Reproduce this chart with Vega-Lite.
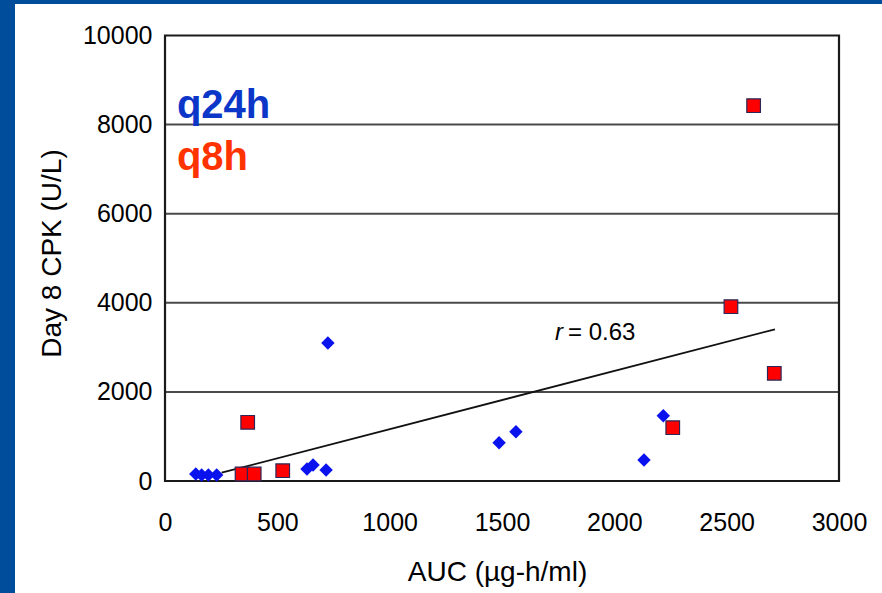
{
  "$schema": "https://vega.github.io/schema/vega-lite/v6.json",
  "width": 867,
  "height": 589,
  "autosize": {"type": "none"},
  "padding": {"left": 15, "top": 4, "right": 0, "bottom": 0},
  "background": "#004d9c",
  "config": {
    "font": "Liberation Sans",
    "numberFormat": "d",
    "view": {"fill": "white", "stroke": null},
    "axisX": {
      "orient": "bottom", "offset": -112, "format": "d",
      "grid": false, "domain": false, "ticks": false, "tickSize": 0,
      "labelPadding": 29, "labelFontSize": 25, "labelColor": "#000000", "labelFont": "Liberation Sans",
      "titleFontSize": 28, "titleFontWeight": "normal", "titleColor": "#000000",
      "titleFont": "Liberation Sans", "titleX": 482, "titleY": 91, "titleBaseline": "middle", "titleAlign": "center"
    },
    "axisY": {
      "orient": "left", "offset": -150, "format": "d",
      "grid": false, "domain": false, "ticks": false, "tickSize": 0,
      "labelPadding": 13, "labelFontSize": 25, "labelColor": "#000000", "labelFont": "Liberation Sans",
      "titleFontSize": 28, "titleFontWeight": "normal", "titleColor": "#000000",
      "titleFont": "Liberation Sans", "titleX": -113, "titleY": 249, "titleBaseline": "middle", "titleAlign": "center", "titleAngle": -90
    }
  },
  "datasets": {
    "points": [
      {"auc": 137, "cpk": 157, "regimen": "q24h"},
      {"auc": 163, "cpk": 135, "regimen": "q24h"},
      {"auc": 193, "cpk": 135, "regimen": "q24h"},
      {"auc": 230, "cpk": 135, "regimen": "q24h"},
      {"auc": 632, "cpk": 269, "regimen": "q24h"},
      {"auc": 659, "cpk": 359, "regimen": "q24h"},
      {"auc": 717, "cpk": 247, "regimen": "q24h"},
      {"auc": 725, "cpk": 3098, "regimen": "q24h"},
      {"auc": 1487, "cpk": 860, "regimen": "q24h"},
      {"auc": 1562, "cpk": 1107, "regimen": "q24h"},
      {"auc": 2132, "cpk": 471, "regimen": "q24h"},
      {"auc": 2218, "cpk": 1466, "regimen": "q24h"},
      {"auc": 2620, "cpk": 8424, "regimen": "q8h"},
      {"auc": 2519, "cpk": 3912, "regimen": "q8h"},
      {"auc": 2712, "cpk": 2418, "regimen": "q8h"},
      {"auc": 2260, "cpk": 1196, "regimen": "q8h"},
      {"auc": 368, "cpk": 1318, "regimen": "q8h"},
      {"auc": 343, "cpk": 157, "regimen": "q8h"},
      {"auc": 397, "cpk": 157, "regimen": "q8h"},
      {"auc": 524, "cpk": 231, "regimen": "q8h"}
    ],
    "fit": [
      {"auc": 252, "cpk": 186},
      {"auc": 2715, "cpk": 3405}
    ],
    "grid": [
      {"cpk": 2000}, {"cpk": 4000}, {"cpk": 6000}, {"cpk": 8000}
    ],
    "notes": [
      {"label": "q24h", "auc": 53, "cpk": 8148},
      {"label": "q8h", "auc": 53, "cpk": 6981},
      {"label": "r", "auc": 1736, "cpk": 3165},
      {"label": "= 0.63", "auc": 1794, "cpk": 3165}
    ]
  },
  "layer": [
    {
      "data": {"name": "grid"},
      "mark": {"type": "rule", "color": "#4a4a4a", "strokeWidth": 2},
      "encoding": {
        "x": {"datum": 0, "type": "quantitative", "title": "AUC (µg-h/ml)", "scale": {"domain": [-667.7, 3191.4], "nice": false, "zero": false}, "axis": {"values": [0, 500, 1000, 1500, 2000, 2500, 3000]}},
        "x2": {"datum": 3000},
        "y": {"field": "cpk", "type": "quantitative", "title": "Day 8 CPK (U/L)", "scale": {"domain": [-2514, 10707], "nice": false, "zero": false}, "axis": {"values": [0, 2000, 4000, 6000, 8000, 10000]}}
      }
    },
    {
      "data": {"values": [{"frame": "plot"}]},
      "mark": {"type": "rect", "fill": null, "fillOpacity": 0, "stroke": "#1a1a1a", "strokeWidth": 2.2},
      "encoding": {
        "x": {"datum": 0, "type": "quantitative", "title": "AUC (µg-h/ml)", "scale": {"domain": [-667.7, 3191.4], "nice": false, "zero": false}, "axis": {"values": [0, 500, 1000, 1500, 2000, 2500, 3000]}},
        "x2": {"datum": 3000},
        "y": {"datum": 0, "type": "quantitative", "title": "Day 8 CPK (U/L)", "scale": {"domain": [-2514, 10707], "nice": false, "zero": false}, "axis": {"values": [0, 2000, 4000, 6000, 8000, 10000]}},
        "y2": {"datum": 10000}
      }
    },
    {
      "data": {"name": "fit"},
      "mark": {"type": "line", "color": "#111111", "strokeWidth": 1.8},
      "encoding": {
        "x": {"field": "auc", "type": "quantitative", "title": "AUC (µg-h/ml)", "scale": {"domain": [-667.7, 3191.4], "nice": false, "zero": false}, "axis": {"values": [0, 500, 1000, 1500, 2000, 2500, 3000]}},
        "y": {"field": "cpk", "type": "quantitative", "title": "Day 8 CPK (U/L)", "scale": {"domain": [-2514, 10707], "nice": false, "zero": false}, "axis": {"values": [0, 2000, 4000, 6000, 8000, 10000]}}
      }
    },
    {
      "data": {"name": "points"},
      "transform": [{"filter": "datum.regimen === 'q24h'"}],
      "mark": {"type": "point", "shape": "diamond", "filled": true, "color": "#0a12ee", "opacity": 1, "size": 180},
      "encoding": {
        "x": {"field": "auc", "type": "quantitative", "title": "AUC (µg-h/ml)", "scale": {"domain": [-667.7, 3191.4], "nice": false, "zero": false}, "axis": {"values": [0, 500, 1000, 1500, 2000, 2500, 3000]}},
        "y": {"field": "cpk", "type": "quantitative", "title": "Day 8 CPK (U/L)", "scale": {"domain": [-2514, 10707], "nice": false, "zero": false}, "axis": {"values": [0, 2000, 4000, 6000, 8000, 10000]}}
      }
    },
    {
      "data": {"name": "points"},
      "transform": [{"filter": "datum.regimen === 'q8h'"}],
      "mark": {"type": "point", "shape": "square", "filled": true, "fill": "#ff0000", "stroke": "#2e2656", "strokeWidth": 1.2, "opacity": 1, "size": 185},
      "encoding": {
        "x": {"field": "auc", "type": "quantitative", "title": "AUC (µg-h/ml)", "scale": {"domain": [-667.7, 3191.4], "nice": false, "zero": false}, "axis": {"values": [0, 500, 1000, 1500, 2000, 2500, 3000]}},
        "y": {"field": "cpk", "type": "quantitative", "title": "Day 8 CPK (U/L)", "scale": {"domain": [-2514, 10707], "nice": false, "zero": false}, "axis": {"values": [0, 2000, 4000, 6000, 8000, 10000]}}
      }
    },
    {
      "data": {"name": "notes"},
      "transform": [{"filter": "datum.label === 'q24h'"}],
      "mark": {"type": "text", "align": "left", "baseline": "alphabetic", "fontSize": 40, "fontWeight": "bold", "color": "#0b36c8", "font": "Liberation Sans"},
      "encoding": {
        "x": {"field": "auc", "type": "quantitative", "title": "AUC (µg-h/ml)", "scale": {"domain": [-667.7, 3191.4], "nice": false, "zero": false}, "axis": {"values": [0, 500, 1000, 1500, 2000, 2500, 3000]}},
        "y": {"field": "cpk", "type": "quantitative", "title": "Day 8 CPK (U/L)", "scale": {"domain": [-2514, 10707], "nice": false, "zero": false}, "axis": {"values": [0, 2000, 4000, 6000, 8000, 10000]}},
        "text": {"field": "label"}
      }
    },
    {
      "data": {"name": "notes"},
      "transform": [{"filter": "datum.label === 'q8h'"}],
      "mark": {"type": "text", "align": "left", "baseline": "alphabetic", "fontSize": 40, "fontWeight": "bold", "color": "#ff3300", "font": "Liberation Sans"},
      "encoding": {
        "x": {"field": "auc", "type": "quantitative", "title": "AUC (µg-h/ml)", "scale": {"domain": [-667.7, 3191.4], "nice": false, "zero": false}, "axis": {"values": [0, 500, 1000, 1500, 2000, 2500, 3000]}},
        "y": {"field": "cpk", "type": "quantitative", "title": "Day 8 CPK (U/L)", "scale": {"domain": [-2514, 10707], "nice": false, "zero": false}, "axis": {"values": [0, 2000, 4000, 6000, 8000, 10000]}},
        "text": {"field": "label"}
      }
    },
    {
      "data": {"name": "notes"},
      "transform": [{"filter": "datum.label === 'r'"}],
      "mark": {"type": "text", "align": "left", "baseline": "alphabetic", "fontSize": 24, "fontStyle": "italic", "color": "#000000", "font": "Liberation Sans"},
      "encoding": {
        "x": {"field": "auc", "type": "quantitative", "title": "AUC (µg-h/ml)", "scale": {"domain": [-667.7, 3191.4], "nice": false, "zero": false}, "axis": {"values": [0, 500, 1000, 1500, 2000, 2500, 3000]}},
        "y": {"field": "cpk", "type": "quantitative", "title": "Day 8 CPK (U/L)", "scale": {"domain": [-2514, 10707], "nice": false, "zero": false}, "axis": {"values": [0, 2000, 4000, 6000, 8000, 10000]}},
        "text": {"field": "label"}
      }
    },
    {
      "data": {"name": "notes"},
      "transform": [{"filter": "datum.label === '= 0.63'"}],
      "mark": {"type": "text", "align": "left", "baseline": "alphabetic", "fontSize": 24, "color": "#000000", "font": "Liberation Sans"},
      "encoding": {
        "x": {"field": "auc", "type": "quantitative", "title": "AUC (µg-h/ml)", "scale": {"domain": [-667.7, 3191.4], "nice": false, "zero": false}, "axis": {"values": [0, 500, 1000, 1500, 2000, 2500, 3000]}},
        "y": {"field": "cpk", "type": "quantitative", "title": "Day 8 CPK (U/L)", "scale": {"domain": [-2514, 10707], "nice": false, "zero": false}, "axis": {"values": [0, 2000, 4000, 6000, 8000, 10000]}},
        "text": {"field": "label"}
      }
    }
  ]
}
